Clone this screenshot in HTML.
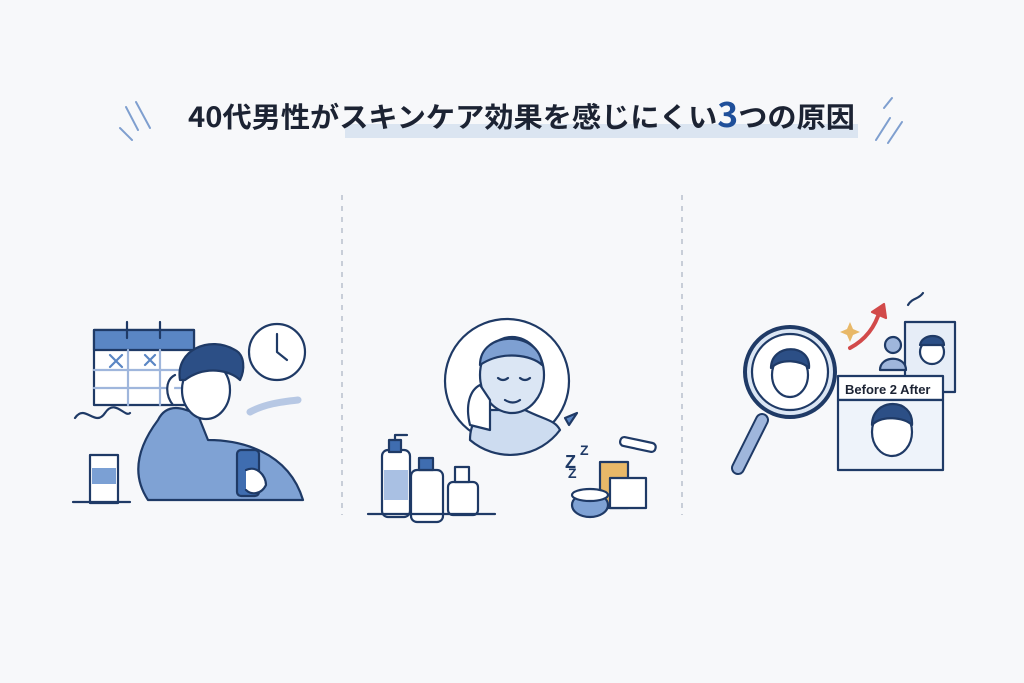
<!DOCTYPE html>
<html><head><meta charset="utf-8"><style>
html,body{margin:0;padding:0;background:#f7f8fa;}
body{width:1024px;height:683px;overflow:hidden;position:relative;font-family:"Liberation Sans","Noto Sans CJK JP",sans-serif;}
</style></head><body>
<svg width="1024" height="683" viewBox="0 0 1024 683" xmlns="http://www.w3.org/2000/svg" style="position:absolute;left:0;top:0">
<rect width="1024" height="683" fill="#f7f8fa"/>
<rect x="345" y="124" width="513" height="14" fill="#dbe5f1"/>
<text x="188" y="127" font-family="Noto Sans CJK JP, sans-serif" font-size="28" font-weight="bold" fill="#1c2333" textLength="667" lengthAdjust="spacingAndGlyphs">40代男性がスキンケア効果を感じにくい<tspan fill="#1f4f9a" font-size="34">3</tspan>つの原因</text>
<g stroke="#7f9fcf" stroke-width="2" stroke-linecap="round">
<line x1="126" y1="107" x2="138" y2="130"/><line x1="136" y1="102" x2="150" y2="128"/><line x1="120" y1="128" x2="132" y2="140"/>
<line x1="876" y1="140" x2="890" y2="118"/><line x1="888" y1="143" x2="902" y2="122"/><line x1="884" y1="108" x2="892" y2="98"/>
</g>
<g stroke="#a9b3c2" stroke-width="1.2" stroke-dasharray="5,6">
<line x1="342" y1="195" x2="342" y2="515"/><line x1="682" y1="195" x2="682" y2="515"/>
</g>
<g stroke="#1f3a66" stroke-width="2.2" fill="none" stroke-linejoin="round" stroke-linecap="round">
<rect x="94" y="330" width="100" height="75" fill="#fff"/>
<rect x="94" y="330" width="100" height="20" fill="#5a86c4"/>
<line x1="127" y1="322" x2="127" y2="338"/><line x1="160" y1="322" x2="160" y2="338"/>
<line x1="94" y1="370" x2="194" y2="370" stroke="#9fb6dc"/><line x1="94" y1="388" x2="194" y2="388" stroke="#9fb6dc"/>
<line x1="128" y1="350" x2="128" y2="405" stroke="#9fb6dc"/><line x1="160" y1="350" x2="160" y2="405" stroke="#9fb6dc"/>
<path d="M110 355 l12 12 M122 355 l-12 12 M145 355 l10 10 M155 355 l-10 10" stroke="#5a86c4"/>
<circle cx="277" cy="352" r="28" fill="#fff"/><path d="M277 334 v18 l10 8"/>
<path d="M75 418 c10 -15 20 10 30 -5 c10 -15 20 5 25 0" />
<path d="M250 412 c15 -8 30 -10 48 -12" stroke="#b7c8e4" stroke-width="7"/>
<rect x="90" y="455" width="28" height="48" fill="#fff"/><rect x="92" y="468" width="24" height="16" fill="#7ba0d4" stroke="none"/>
<line x1="73" y1="502" x2="130" y2="502"/>
<path d="M148 500 c-20 -30 -5 -60 10 -80 c10 -20 30 -10 40 -5 l10 25 c30 0 80 10 95 60 z" fill="#7fa2d4"/>
<ellipse cx="206" cy="390" rx="24" ry="29" fill="#fff"/>
<path d="M180 380 c-5 -30 30 -45 55 -30 c10 5 10 20 5 30 c-10 -10 -35 -15 -55 0 z" fill="#2c4f86"/>
<path d="M175 375 c-10 5 -10 20 -2 30" fill="#fff"/>
<rect x="237" y="450" width="22" height="46" rx="4" fill="#3f6db0"/>
<path d="M246 470 c10 -5 20 5 20 15 c-5 10 -15 10 -20 5" fill="#fff"/>
<circle cx="507" cy="381" r="62" fill="#fff"/>
<path d="M470 440 c0 -20 10 -25 20 -30 l35 0 c20 10 30 10 35 20 a62 62 0 0 1 -90 10z" fill="#cddcf0"/>
<ellipse cx="512" cy="375" rx="32" ry="38" fill="#dbe6f4"/>
<path d="M480 365 c0 -35 60 -35 62 0 c-10 -10 -40 -15 -62 0z" fill="#7ea0d2"/>
<path d="M498 378 q5 4 10 0 M520 378 q5 4 10 0 M505 400 q8 5 15 0"/>
<path d="M470 425 c-5 -20 0 -35 10 -40 l10 15 l0 30 z" fill="#fff"/>
<path d="M565 418 l12 -5 l-8 12z" fill="#5a86c4"/>
<rect x="382" y="450" width="28" height="67" rx="6" fill="#fff"/><rect x="384" y="470" width="24" height="30" fill="#a9c0e3" stroke="none"/>
<rect x="389" y="440" width="12" height="12" fill="#3f6db0"/><path d="M395 440 v-5 h12"/>
<rect x="411" y="470" width="32" height="52" rx="6" fill="#fff"/><rect x="419" y="458" width="14" height="12" fill="#3f6db0"/>
<rect x="448" y="482" width="30" height="33" rx="5" fill="#fff"/><rect x="455" y="467" width="14" height="15" fill="#fff"/>
<line x1="368" y1="514" x2="495" y2="514"/>
<text x="565" y="468" font-size="18" fill="#1f3a66" stroke="none" font-weight="bold">Z</text>
<text x="580" y="455" font-size="14" fill="#1f3a66" stroke="none" font-weight="bold">Z</text>
<text x="568" y="478" font-size="14" fill="#1f3a66" stroke="none" font-weight="bold">Z</text>
<rect x="620" y="440" width="36" height="9" rx="4" fill="#fff" transform="rotate(12 638 444)"/>
<rect x="600" y="462" width="28" height="46" fill="#e8b868"/>
<rect x="610" y="478" width="36" height="30" fill="#fff"/>
<ellipse cx="590" cy="505" rx="18" ry="12" fill="#7fa2d4"/><ellipse cx="590" cy="495" rx="18" ry="6" fill="#fff"/>
<line x1="762" y1="420" x2="738" y2="468" stroke-width="14" stroke="#1f3a66"/>
<line x1="762" y1="420" x2="738" y2="468" stroke-width="10" stroke="#9fb6dc"/>
<circle cx="790" cy="372" r="45" fill="#dbe6f4" stroke-width="4"/>
<circle cx="790" cy="372" r="38" fill="#fff"/>
<ellipse cx="790" cy="375" rx="18" ry="22" fill="#fff"/>
<path d="M771 368 c0 -25 40 -25 38 0 c-8 -8 -28 -10 -38 0z" fill="#2c4f86"/>
<rect x="905" y="322" width="50" height="70" fill="#e6edf7"/>
<circle cx="932" cy="352" r="12" fill="#fff"/><path d="M920 345 c2 -12 24 -12 24 0z" fill="#2c4f86"/>
<circle cx="893" cy="345" r="8" fill="#9fb6dc"/><path d="M880 370 c0 -15 26 -15 26 0z" fill="#9fb6dc"/>
<path d="M850 348 c15 -8 25 -20 30 -38" stroke="#d24a4a" stroke-width="4"/><path d="M872 312 l12 -8 l2 14z" fill="#d24a4a" stroke="#d24a4a"/>
<path d="M908 305 c5 -8 10 -5 15 -12"/>
<rect x="838" y="376" width="105" height="24" fill="#fff"/>
<text x="845" y="394" font-size="13" font-weight="bold" fill="#1c2333" stroke="none">Before 2 After</text>
<rect x="838" y="400" width="105" height="70" fill="#eef3fa"/>
<ellipse cx="892" cy="432" rx="20" ry="24" fill="#fff"/>
<path d="M872 425 c0 -28 42 -28 40 0 c-8 -8 -30 -10 -40 0z" fill="#2c4f86"/>
</g>
<path d="M850 322 l3 7 l7 3 l-7 3 l-3 7 l-3 -7 l-7 -3 l7 -3z" fill="#e8b868"/>
</svg>
</body></html>
